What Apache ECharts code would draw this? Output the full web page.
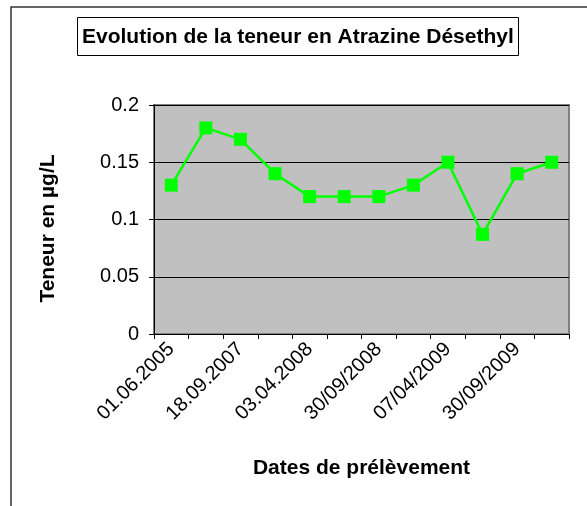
<!DOCTYPE html>
<html>
<head>
<meta charset="utf-8">
<script src="https://cdn.jsdelivr.net/npm/echarts@6/dist/echarts.min.js"></script>
<style>
  html, body { margin: 0; padding: 0; background: #fff; }
  #main { width: 587px; height: 506px; }
</style>
</head>
<body>
<div id="main"></div>
<script>
// dates de prélèvement (une sur deux affichée)
var dates = ['01.06.2005', '13.03.2007', '18.09.2007', '04.12.2007', '03.04.2008', '25.06.2008',
             '30/09/2008', '16/12/2008', '07/04/2009', '23/06/2009', '30/09/2009', '15/12/2009'];
// teneur en µg/L
var teneur = [0.13, 0.18, 0.17, 0.14, 0.12, 0.12, 0.12, 0.13, 0.15, 0.087, 0.14, 0.15];
var yTicks = [0, 0.05, 0.1, 0.15, 0.2];

var font = 'Arial, "Liberation Sans", sans-serif';

var chart = echarts.init(document.getElementById('main'));
chart.setOption({
    animation: false,
    backgroundColor: '#fff',
    title: {
        text: 'Evolution de la teneur en Atrazine Désethyl',
        left: 77,
        top: 17,
        padding: [9, 5, 8, 5],
        borderColor: '#000',
        borderWidth: 1,
        textStyle: { fontFamily: font, fontSize: 21, fontWeight: 'bold', color: '#000', lineHeight: 22 }
    },
    graphic: [
        {
            // cadre du graphique, coupé à droite et en bas
            type: 'rect',
            shape: { x: 11, y: 7, width: 700, height: 600 },
            style: { fill: 'none', stroke: '#333', lineWidth: 1.5 },
            silent: true
        }
    ],
    grid: {
        left: 154,
        right: 18,
        top: 105,
        bottom: 172,
        show: true,
        backgroundColor: '#c0c0c0',
        borderColor: '#808080',
        borderWidth: 2
    },
    xAxis: {
        type: 'category',
        data: dates,
        boundaryGap: true,
        name: 'Dates de prélèvement',
        nameLocation: 'middle',
        nameGap: 124,
        nameTextStyle: { fontFamily: font, fontSize: 21, fontWeight: 'bold', color: '#000' },
        axisLine: { lineStyle: { color: '#000', width: 1 } },
        axisTick: { show: true, length: 5, interval: 0, lineStyle: { color: '#000' } },
        axisLabel: {
            interval: 1,
            rotate: 45,
            margin: 12,
            fontFamily: font,
            fontSize: 20,
            color: '#000'
        }
    },
    yAxis: {
        type: 'value',
        min: yTicks[0],
        max: yTicks[yTicks.length - 1],
        interval: 0.05,
        name: 'Teneur en µg/L',
        nameLocation: 'middle',
        nameGap: 95,
        nameTextStyle: { fontFamily: font, fontSize: 21, fontWeight: 'bold', color: '#000', padding: [0, 18, 0, 0] },
        axisLine: { show: true, lineStyle: { color: '#000', width: 1 } },
        axisTick: { show: true, length: 5, lineStyle: { color: '#000' } },
        axisLabel: { fontFamily: font, fontSize: 20, color: '#000', margin: 15 },
        splitLine: { show: true, lineStyle: { color: '#000', width: 1 } }
    },
    series: [
        {
            type: 'line',
            data: teneur,
            symbol: 'rect',
            symbolSize: 13,
            lineStyle: { color: '#00ff00', width: 2.5 },
            itemStyle: { color: '#00ff00', borderWidth: 0 }
        }
    ]
});
</script>
</body>
</html>
